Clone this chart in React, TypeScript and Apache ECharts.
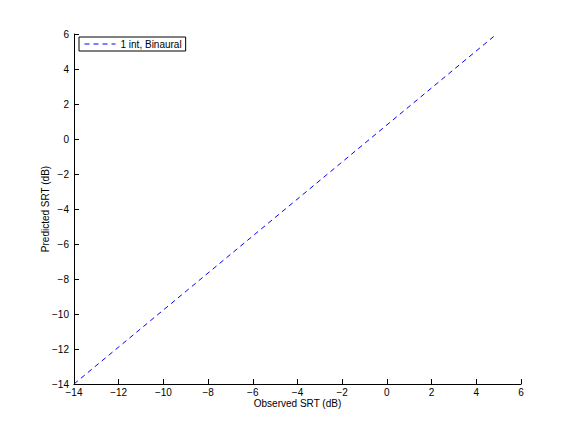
import React, { useEffect, useRef } from "react";
import * as echarts from "echarts";

const observed = [-14, 4.8];
const predicted = [-14, 5.88];
const seriesName = "1 int, Binaural";
const xLabel = "Observed SRT (dB)";
const yLabel = "Predicted SRT (dB)";

const fmt = (v: number) => String(v).replace("-", "\u2212");

export default function App() {
  const ref = useRef<HTMLDivElement>(null);
  useEffect(() => {
    const chart = echarts.init(ref.current!, null, { renderer: "svg" });
    const font = "Liberation Sans, Arial, Helvetica, sans-serif";
    chart.setOption({
      animation: false,
      backgroundColor: "#ffffff",
      textStyle: { fontFamily: font },
      grid: { left: 74, right: 55, top: 34, bottom: 48, containLabel: false },
      legend: {
        left: 79,
        top: 37,
        orient: "vertical",
        backgroundColor: "#ffffff",
        borderColor: "#000000",
        borderWidth: 1,
        borderRadius: 0,
        padding: [2, 4, 2, 5],
        itemWidth: 31,
        itemHeight: 10,
        itemGap: 2,
        itemStyle: { opacity: 0 },
        lineStyle: { width: 1, type: [5, 4], color: "#0000ff" },
        textStyle: { fontFamily: font, fontSize: 10, color: "#000" },
        data: [seriesName],
      },
      xAxis: {
        type: "value",
        min: -14,
        max: 6,
        interval: 2,
        name: xLabel,
        nameLocation: "middle",
        nameGap: 14,
        nameMoveOverlap: false,
        nameTextStyle: { fontFamily: font, fontSize: 10, color: "#000" },
        axisLine: { onZero: false, lineStyle: { color: "#000", width: 1 } },
        axisTick: { inside: true, length: 5, lineStyle: { color: "#000" } },
        axisLabel: { formatter: fmt, fontFamily: font, fontSize: 10, color: "#000", margin: 3 },
        splitLine: { show: false },
      },
      yAxis: {
        type: "value",
        min: -14,
        max: 6,
        interval: 2,
        name: yLabel,
        nameLocation: "middle",
        nameGap: 24,
        nameMoveOverlap: false,
        nameTextStyle: { fontFamily: font, fontSize: 10, color: "#000" },
        axisLine: { onZero: false, lineStyle: { color: "#000", width: 1 } },
        axisTick: { inside: true, length: 5, lineStyle: { color: "#000" } },
        axisLabel: { formatter: fmt, fontFamily: font, fontSize: 10, color: "#000", margin: 5 },
        splitLine: { show: false },
      },
      series: [
        {
          name: seriesName,
          type: "line",
          data: observed.map((x, i) => [x, predicted[i]]),
          symbol: "none",
          lineStyle: { color: "#0000ff", width: 1, type: [5, 4] },
          itemStyle: { color: "#0000ff" },
        },
      ],
    });
    return () => chart.dispose();
  }, []);
  return (
    <div
      ref={ref}
      style={{ position: "absolute", left: 0, top: 0, width: 576, height: 432 }}
    />
  );
}
